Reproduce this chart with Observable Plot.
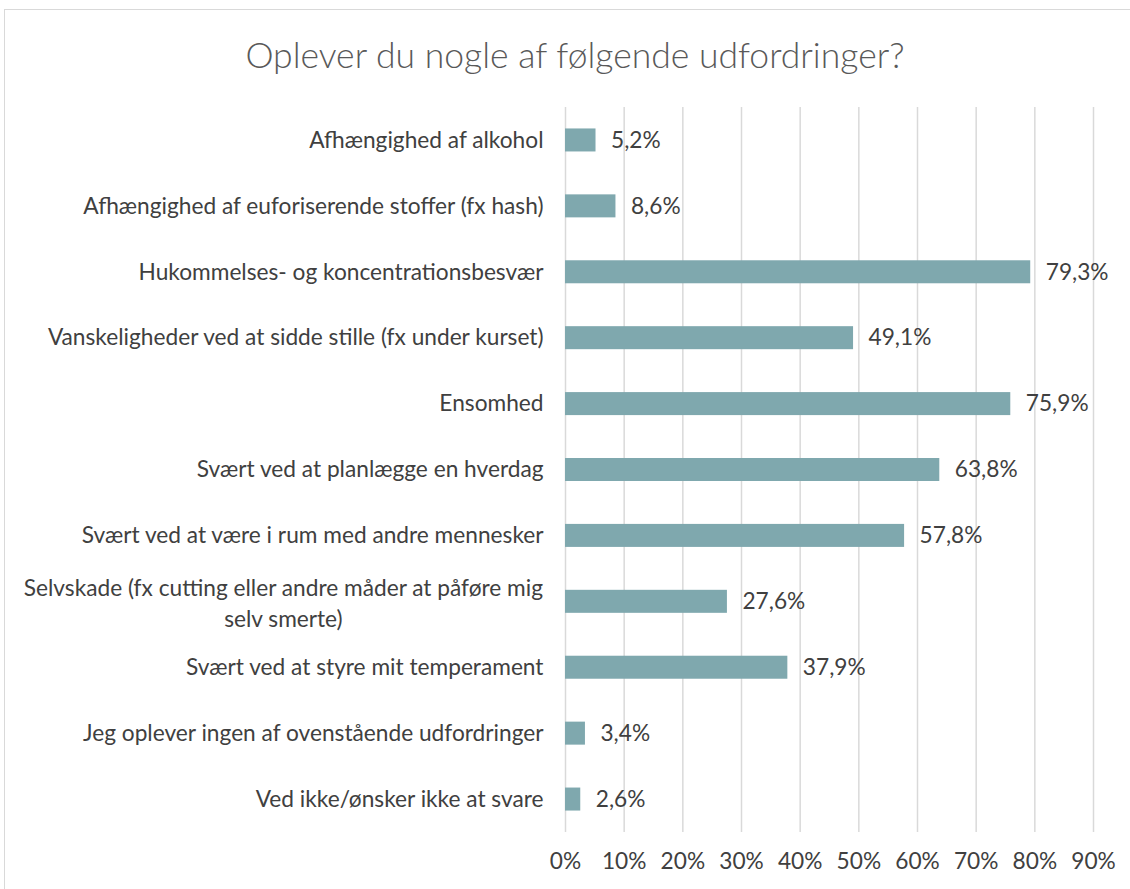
<!DOCTYPE html>
<html>
<head>
<meta charset="utf-8">
<script src="https://cdn.jsdelivr.net/npm/d3@7"></script>
<script src="https://cdn.jsdelivr.net/npm/@observablehq/plot@0.6"></script>
<style>
  html, body { margin: 0; padding: 0; background: #fff; }
  #wrap { position: relative; width: 1130px; height: 889px; overflow: hidden; font-family: Lato, "Open Sans", sans-serif; }
  #frame { position: absolute; left: 4px; top: 9px; width: 1140px; height: 900px; border: 1.5px solid #d9d9d9; box-sizing: border-box; pointer-events: none; }
  #title { position: absolute; left: 10px; top: 0; width: 1130px; height: 90px; text-align: center; font-size: 35.5px; font-weight: 300; color: #595959; line-height: 1; padding-top: 37px; box-sizing: border-box; }
  #chart { position: absolute; left: 0; top: 90px; line-height: 0; }
  #chart svg { display: block; }
</style>
</head>
<body>
<div id="wrap">
  <div id="frame"></div>
  <div id="title">Oplever du nogle af følgende udfordringer?</div>
  <div id="chart"></div>
</div>
<script>
const categories = [
  "Afhængighed af alkohol",
  "Afhængighed af euforiserende stoffer (fx hash)",
  "Hukommelses- og koncentrationsbesvær",
  "Vanskeligheder ved at sidde stille (fx under kurset)",
  "Ensomhed",
  "Svært ved at planlægge en hverdag",
  "Svært ved at være i rum med andre mennesker",
  "Selvskade (fx cutting eller andre måder at påføre mig selv smerte)",
  "Svært ved at styre mit temperament",
  "Jeg oplever ingen af ovenstående udfordringer",
  "Ved ikke/ønsker ikke at svare"
];
const values = [5.2, 8.6, 79.3, 49.1, 75.9, 63.8, 57.8, 27.6, 37.9, 3.4, 2.6];
const xTicks = [0, 10, 20, 30, 40, 50, 60, 70, 80, 90];
const wrappedLabels = {
  "Selvskade (fx cutting eller andre måder at påføre mig selv smerte)":
    ["Selvskade (fx cutting eller andre måder at påføre mig", "selv smerte)"]
};

const data = categories.map((c, i) => ({category: c, value: values[i]}));
const fmt = v => v.toFixed(1).replace(".", ",") + "%";

const FONT = "Lato, 'Open Sans', sans-serif";
const FS = 22.7;
const textColor = "#404040";
const pad = 22;

// measure wrapped label width to center its lines like the original
const ctx = document.createElement("canvas").getContext("2d");
ctx.font = `${FS}px Lato`;
const wrapped = Object.entries(wrappedLabels).map(([c, lines]) => {
  const w = Math.max(...lines.map(l => ctx.measureText(l).width));
  return {category: c, text: lines.join("\n"), dx: -(pad + w / 2)};
});

const plot = Plot.plot({
  width: 1130,
  height: 799,
  marginTop: 17,
  marginBottom: 57,
  marginLeft: 565,
  marginRight: 37,
  style: {fontFamily: FONT, fontSize: FS + "px", color: textColor, background: "transparent"},
  x: {domain: [0, 90], ticks: xTicks, tickFormat: d => d + "%", label: null},
  y: {domain: categories, paddingInner: 0.651, paddingOuter: 0.3255, round: false, label: null},
  marks: [
    Plot.ruleX(xTicks, {x: d => d, stroke: "#d9d9d9", strokeWidth: 1.5}),
    Plot.barX(data, {x: "value", y: "category", fill: "#7fa8ae"}),
    Plot.text(data, {x: "value", y: "category", text: d => fmt(d.value), textAnchor: "start", dx: 15, fill: textColor, fontSize: FS}),
    Plot.axisX({ticks: xTicks, tickFormat: d => d + "%", tickSize: 0, tickPadding: 20, fontSize: FS, label: null, fill: textColor}),
    Plot.axisY({tickSize: 0, tickPadding: pad, fontSize: FS, label: null, fill: textColor,
      tickFormat: d => wrappedLabels[d] ? "" : d}),
    ...wrapped.map(w => Plot.text([w], {x: () => 0, y: "category", text: "text", textAnchor: "middle", dx: w.dx, lineHeight: 1.37, fontSize: FS, fill: textColor}))
  ]
});
document.getElementById("chart").appendChild(plot);
</script>
</body>
</html>
